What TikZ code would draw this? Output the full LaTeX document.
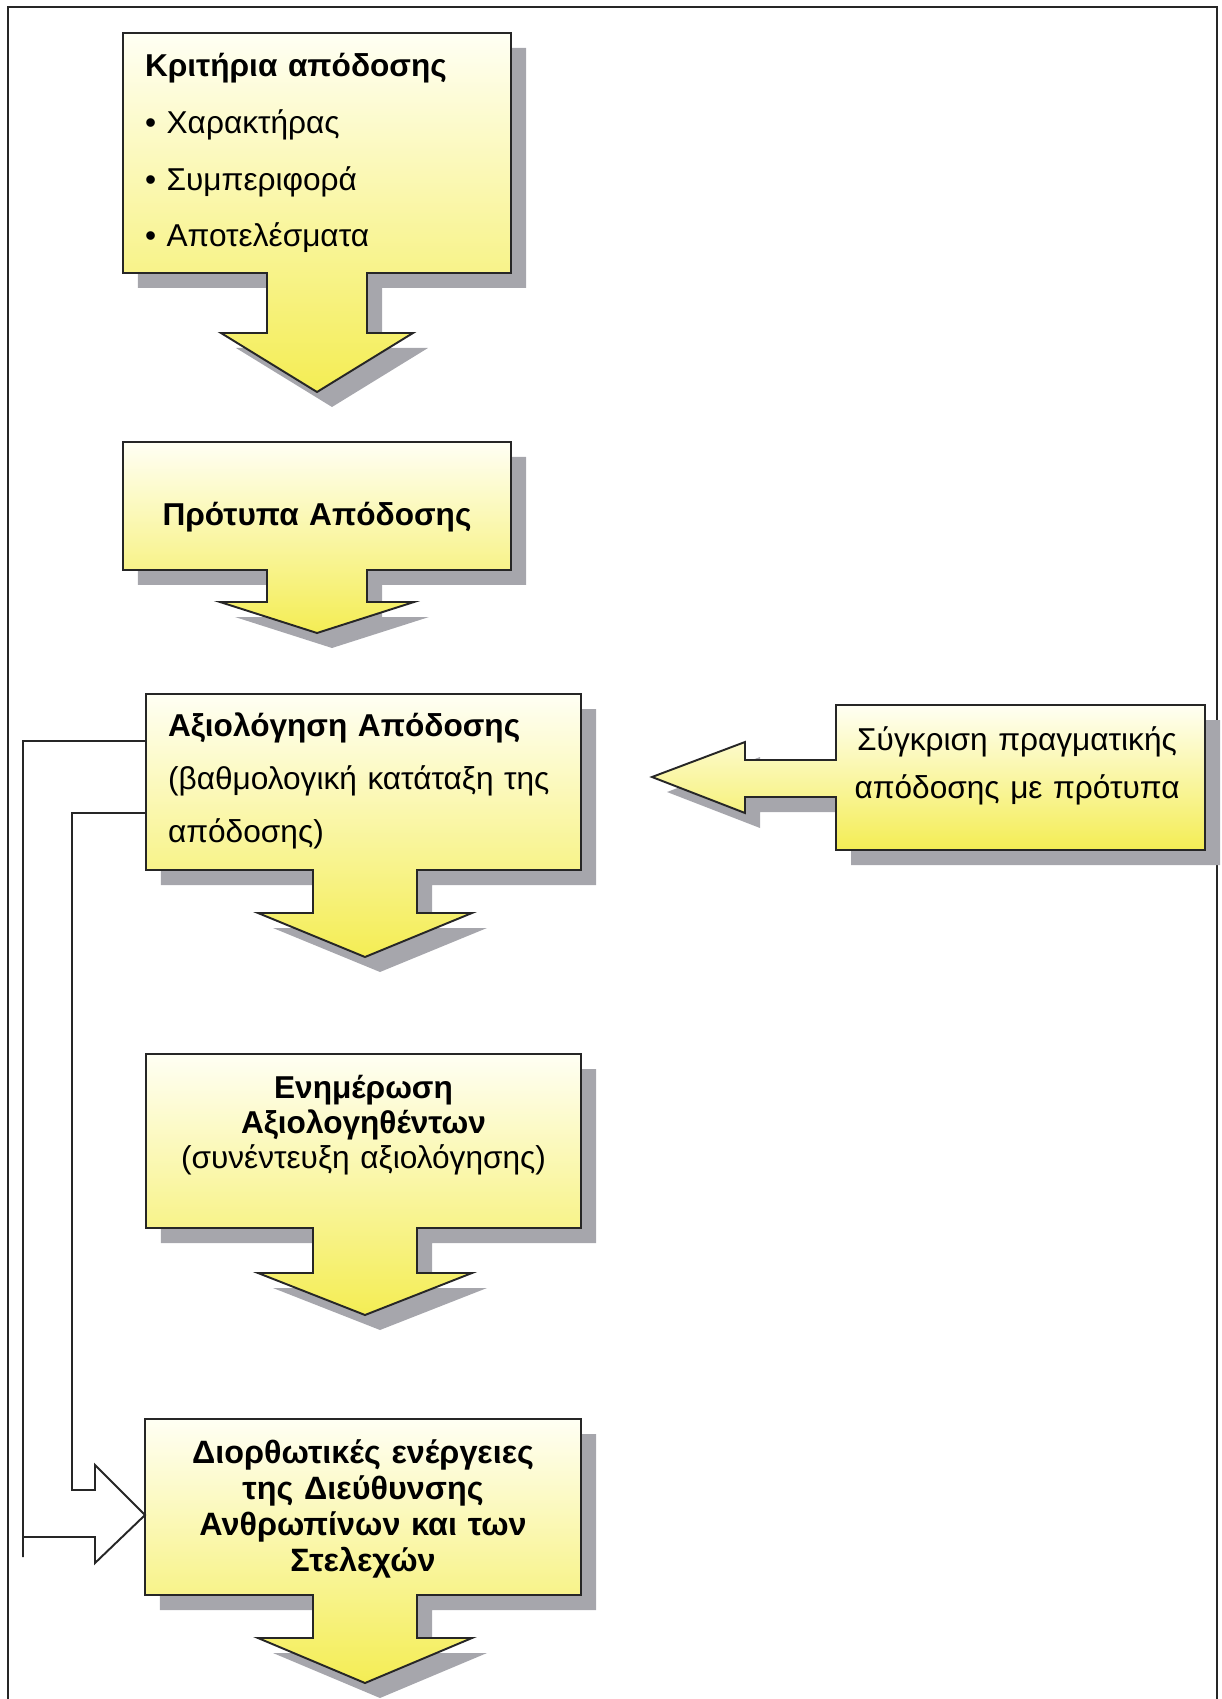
\documentclass[tikz,border=0pt]{standalone}
\usepackage{fontspec}
\setmainfont{Liberation Sans}
\usetikzlibrary{calc,shadows}
\definecolor{boxtop}{RGB}{255,255,244}
\definecolor{boxbottom}{RGB}{244,237,84}
\definecolor{shadowgray}{RGB}{166,166,172}
\begin{document}
\begin{tikzpicture}[x=0.02cm, y=-0.02cm,
		mycallout/.style={draw=black!85, line width=1.1pt, top color=boxtop, bottom color=boxbottom, drop shadow={shadow xshift=0.3cm, shadow yshift=-0.3cm, fill=shadowgray, opacity=1}},
		mytext/.style={outer sep=0pt, inner xsep=0.44cm, inner ysep=0pt},
		myline/.style={draw=black!85, line width=1.1pt}
	]
	\useasboundingbox (0,0) rectangle (1222,1699);
	\draw[myline] (8,1699) -- (8,7) -- (1217,7) -- (1217,1699);

	\path[mycallout] (123,33) -- (511,33) -- (511,273) -- (367,273) -- (367,333) -- (413,333) -- (317,392) -- (221,333) -- (267,333) -- (267,273) -- (123,273) -- cycle;
	\path[mycallout] (123,442) -- (511,442) -- (511,570) -- (367,570) -- (367,602) -- (414,602) -- (317,633) -- (220,602) -- (267,602) -- (267,570) -- (123,570) -- cycle;
	\path[mycallout] (146,694) -- (581,694) -- (581,870) -- (417,870) -- (417,913) -- (472,913) -- (365,957) -- (258,913) -- (313,913) -- (313,870) -- (146,870) -- cycle;
	\path[mycallout] (146,1054) -- (581,1054) -- (581,1228) -- (417,1228) -- (417,1273) -- (472,1273) -- (365,1315) -- (258,1273) -- (313,1273) -- (313,1228) -- (146,1228) -- cycle;
	\path[mycallout] (145,1419) -- (581,1419) -- (581,1595) -- (417,1595) -- (417,1638) -- (472,1638) -- (365,1683) -- (258,1638) -- (313,1638) -- (313,1595) -- (145,1595) -- cycle;
	\path[mycallout] (836,705) -- (1205,705) -- (1205,850) -- (836,850) -- (836,797) -- (745,797) -- (745,813) -- (652,777) -- (745,742) -- (745,760) -- (836,760) -- cycle;

	\node[mytext, text width=6.88cm, align=left, font=\fontsize{18}{32.4}\selectfont] (crit) at (317,153) {\textbf{Κριτήρια απόδοσης}\\• Χαρακτήρας\\• Συμπεριφορά\\• Αποτελέσματα};
	\node[mytext, text width=6.88cm, align=center, font=\fontsize{18}{22}\selectfont\bfseries] (prot) at (317,517) {Πρότυπα Απόδοσης};
	\node[mytext, text width=7.82cm, align=left, font=\fontsize{18}{30}\selectfont] (axio) at (363.5,781) {\textbf{Αξιολόγηση Απόδοσης}\\(βαθμολογική κατάταξη της\\απόδοσης)};
	\node[mytext, text width=7.82cm, align=center, font=\fontsize{18}{20}\selectfont] (enim) at (363.5,1125) {\textbf{Ενημέρωση}\\\textbf{Αξιολογηθέντων}\\(συνέντευξη αξιολόγησης)};
	\node[mytext, text width=7.84cm, align=center, font=\fontsize{18.4}{20.5}\selectfont\bfseries] (dior) at (363,1509) {Διορθωτικές ενέργειες\\της Διεύθυνσης\\Ανθρωπίνων και των\\Στελεχών};
	\node[mytext, inner xsep=0.14cm, text width=7.1cm, align=center, font=\fontsize{18}{27}\selectfont] (sygk) at (1017,766) {Σύγκριση πραγματικής\\απόδοσης με πρότυπα};

	\draw[myline] ($(axio.west)+(0,-40)$) -| (23,1557) (23,1537) -- (95,1537) -- (95,1563) -- ($(dior.west)+(0,6)$) -- (95,1465) -- (95,1490) -| (72,813) -- ($(axio.west)+(0,32)$);

\end{tikzpicture}
\end{document}
